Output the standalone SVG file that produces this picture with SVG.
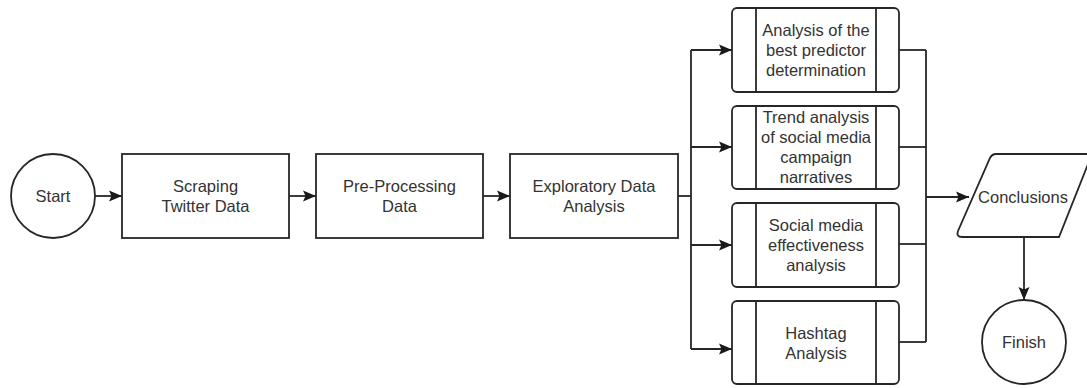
<svg xmlns="http://www.w3.org/2000/svg" width="1087" height="388" viewBox="0 0 1087 388">
<defs>
<style>
.n{fill:#fff;stroke:#262626;stroke-width:1.8}
.c{fill:none;stroke:#262626;stroke-width:1.8}
text{font-family:"Liberation Sans",Arial,sans-serif;font-size:16.5px;fill:#333;text-anchor:middle}
</style>
<marker id="ah" markerUnits="userSpaceOnUse" markerWidth="14" markerHeight="14" viewBox="0 0 14 14" refX="13" refY="7" orient="auto">
<path d="M0,1.5 L13,7 L0,12.5 L2.5,7 Z" fill="#1a1a1a"/>
</marker>
</defs>
<rect width="1087" height="388" fill="#fff"/>
<g id="connectors">
<line class="c" x1="95" y1="196" x2="122" y2="196" marker-end="url(#ah)"/>
<line class="c" x1="289" y1="196" x2="316" y2="196" marker-end="url(#ah)"/>
<line class="c" x1="483" y1="196" x2="510" y2="196" marker-end="url(#ah)"/>
<polyline class="c" points="678,196 691,196"/>
<line class="c" x1="691" y1="50" x2="691" y2="349"/>
<line class="c" x1="691" y1="50" x2="732" y2="50" marker-end="url(#ah)"/>
<line class="c" x1="691" y1="147" x2="732" y2="147" marker-end="url(#ah)"/>
<line class="c" x1="691" y1="245" x2="732" y2="245" marker-end="url(#ah)"/>
<line class="c" x1="691" y1="349" x2="732" y2="349" marker-end="url(#ah)"/>
<line class="c" x1="899" y1="50" x2="926" y2="50"/>
<line class="c" x1="899" y1="147" x2="926" y2="147"/>
<line class="c" x1="899" y1="244" x2="926" y2="244"/>
<line class="c" x1="899" y1="342" x2="926" y2="342"/>
<line class="c" x1="926" y1="50" x2="926" y2="342"/>
<line class="c" x1="926" y1="197" x2="969" y2="197" marker-end="url(#ah)"/>
<line class="c" x1="1024" y1="237" x2="1024" y2="300" marker-end="url(#ah)"/>
</g>
<g id="start">
<circle class="n" cx="53" cy="196" r="42"/>
<text x="53" y="202">Start</text>
</g>
<g id="scraping">
<rect class="n" x="122" y="154" width="167" height="84"/>
<text x="205.5" y="192">Scraping</text>
<text x="205.5" y="212">Twitter Data</text>
</g>
<g id="preprocessing">
<rect class="n" x="316" y="154" width="167" height="84"/>
<text x="399.5" y="192">Pre-Processing</text>
<text x="399.5" y="212">Data</text>
</g>
<g id="eda">
<rect class="n" x="510" y="154" width="168" height="84"/>
<text x="594" y="192">Exploratory Data</text>
<text x="594" y="212">Analysis</text>
</g>
<g id="predictor">
<rect class="n" x="732" y="8" width="167" height="84" rx="5"/>
<line class="c" x1="756" y1="8" x2="756" y2="92"/>
<line class="c" x1="876" y1="8" x2="876" y2="92"/>
<text x="816" y="36">Analysis of the</text>
<text x="816" y="56">best predictor</text>
<text x="816" y="76">determination</text>
</g>
<g id="trend">
<rect class="n" x="732" y="106" width="167" height="83" rx="5"/>
<line class="c" x1="756" y1="106" x2="756" y2="189"/>
<line class="c" x1="876" y1="106" x2="876" y2="189"/>
<text x="816" y="123">Trend analysis</text>
<text x="816" y="143">of social media</text>
<text x="816" y="163">campaign</text>
<text x="816" y="183">narratives</text>
</g>
<g id="effectiveness">
<rect class="n" x="732" y="203" width="167" height="84" rx="5"/>
<line class="c" x1="756" y1="203" x2="756" y2="287"/>
<line class="c" x1="876" y1="203" x2="876" y2="287"/>
<text x="816" y="231">Social media</text>
<text x="816" y="251">effectiveness</text>
<text x="816" y="271">analysis</text>
</g>
<g id="hashtag">
<rect class="n" x="732" y="301" width="167" height="83" rx="5"/>
<line class="c" x1="756" y1="301" x2="756" y2="384"/>
<line class="c" x1="876" y1="301" x2="876" y2="384"/>
<text x="816" y="339">Hashtag</text>
<text x="816" y="359">Analysis</text>
</g>
<g id="conclusions">
<path class="n" d="M996,154 L1092,154 L1059,237 L962,237 Q956,237 958,231 L990,158 Q992,154 996,154 Z"/>
<text x="1023" y="203">Conclusions</text>
</g>
<g id="finish">
<circle class="n" cx="1024" cy="342" r="42"/>
<text x="1024" y="348">Finish</text>
</g>
</svg>
